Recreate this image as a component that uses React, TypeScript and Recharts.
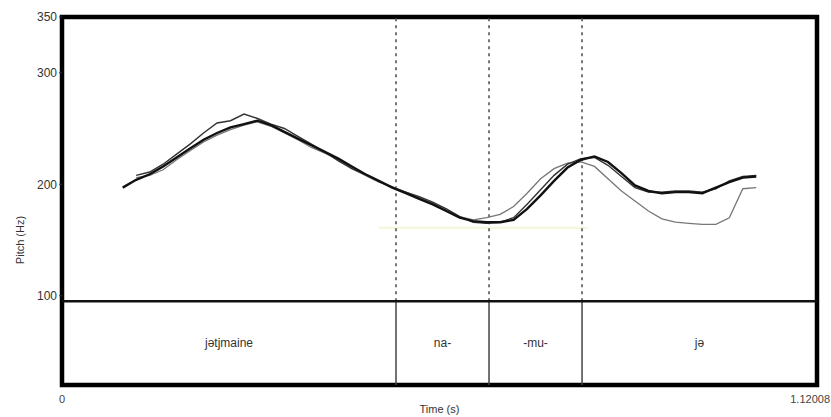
import {
  ComposedChart,
  Line,
  XAxis,
  YAxis,
  ReferenceLine,
  ReferenceArea,
  Label,
} from "recharts";

const END_TIME = 1.12008;
const Y_MIN = 20;
const TIER_TOP = 95;

const times = [
  0.09, 0.11, 0.13, 0.15, 0.17, 0.19, 0.21, 0.23, 0.25, 0.27, 0.29, 0.31, 0.33, 0.35, 0.37,
  0.39, 0.41, 0.43, 0.45, 0.47, 0.49, 0.51, 0.53, 0.55, 0.57, 0.59, 0.61, 0.63, 0.65, 0.67,
  0.69, 0.71, 0.73, 0.75, 0.77, 0.79, 0.81, 0.83, 0.85, 0.87, 0.89, 0.91, 0.93, 0.95, 0.97,
  0.99, 1.01, 1.03,
];

const pitchThick = [
  197, 204, 209, 216, 224, 232, 240, 246, 251, 254, 257, 253, 247, 241, 235,
  229, 223, 216, 209, 203, 197, 192, 187, 182, 176, 170, 167, 166, 166, 168,
  178, 190, 203, 215, 222, 225, 220, 210, 199, 194, 192, 193, 193, 192, 197,
  202, 206, 207,
];

const pitchJagged = [
  null, 208, 211, 218, 227, 236, 246, 255, 257, 263, 259, 254, 250, 243, 236,
  229, 221, 214, 209, 203, 197, 193, 189, 184, 178, 171, 166, 165, 166, 170,
  182, 195, 208, 218, 223, 224, 217, 207, 197, 193, 193, 194, 194, 193, 196,
  203, 207, 208,
];

const pitchLight = [
  null, 206, 208, 213, 222, 230, 238, 244, 249, 253, 256, 252, 246, 240, 233,
  228, 222, 214, 208, 202, 198, 193, 188, 183, 178, 171, 168, 170, 173, 180,
  192, 205, 214, 219, 220, 216, 205, 194, 185, 176, 169, 166, 165, 164, 164,
  170, 196, 197,
];

const boundaries = [0.4955, 0.6335, 0.7715];
const syllables = ["jətjmaine", "na-", "-mu-", "jə"];
const yTicks = [100, 200, 300, 350];
const xTicks = [0, END_TIME];

const rows = times.map((t, i) => ({
  t,
  thick: pitchThick[i],
  jagged: pitchJagged[i],
  light: pitchLight[i],
}));

const edges = [0, ...boundaries, END_TIME];
const FONT = "'Liberation Sans', Arial, sans-serif";

function TimeTick(props: any) {
  const { x, y, payload } = props;
  const last = payload.value !== 0;
  return (
    <text
      x={last ? 830 : x}
      y={y + 10}
      textAnchor={last ? "end" : "middle"}
      fontSize={11}
      fill="#444"
      fontFamily={FONT}
    >
      {last ? String(END_TIME) : "0"}
    </text>
  );
}

export default function App() {
  return (
    <div style={{ position: "absolute", left: 0, top: 0, background: "#fff" }}>
      <ComposedChart
        width={831}
        height={417}
        data={rows}
        margin={{ top: 17, right: 14, bottom: 2, left: 0 }}
        style={{ fontFamily: FONT }}
      >
        <XAxis
          dataKey="t"
          type="number"
          domain={[0, END_TIME]}
          ticks={xTicks}
          axisLine={false}
          tickLine={false}
          tick={<TimeTick />}
          height={30}
          interval={0}
        >
          <Label value="Time (s)" position="insideBottom" offset={2} style={{ fontSize: 11, fill: "#333" }} />
        </XAxis>
        <YAxis
          type="number"
          domain={[Y_MIN, 350]}
          ticks={yTicks}
          width={62}
          axisLine={false}
          tickLine={{ stroke: "#333" }}
          tickSize={3}
          tick={{ fontSize: 12, fill: "#333" }}
          interval={0}
        >
          <Label
            content={() => (
              <text
                x={20}
                y={240}
                transform="rotate(-90 20 240)"
                textAnchor="middle"
                dominantBaseline="central"
                fontSize={11}
                fill="#333"
                fontFamily={FONT}
              >
                Pitch (Hz)
              </text>
            )}
          />
        </YAxis>

        <ReferenceLine
          segment={[{ x: 0.47, y: 161 }, { x: 0.78, y: 161 }]}
          stroke="#f3f6d8"
          strokeWidth={2}
        />

        {boundaries.map((b) => (
          <ReferenceLine
            key={`d${b}`}
            segment={[{ x: b, y: TIER_TOP }, { x: b, y: 350 }]}
            stroke="#555"
            strokeWidth={1.6}
            strokeDasharray="3 4"
          />
        ))}
        {boundaries.map((b) => (
          <ReferenceLine
            key={`s${b}`}
            segment={[{ x: b, y: Y_MIN }, { x: b, y: TIER_TOP }]}
            stroke="#444"
            strokeWidth={1.5}
          />
        ))}
        {syllables.map((s, i) => (
          <ReferenceArea
            key={s}
            x1={edges[i]}
            x2={edges[i + 1]}
            y1={Y_MIN}
            y2={TIER_TOP}
            fill="none"
            stroke="none"
            label={{ value: s, position: "center", fontSize: 12, fill: "#333" }}
          />
        ))}

        <ReferenceLine y={TIER_TOP} stroke="#111" strokeWidth={2.5} />
        <ReferenceArea
          x1={0}
          x2={END_TIME}
          y1={Y_MIN}
          y2={350}
          fill="none"
          stroke="#000"
          strokeWidth={4.5}
        />

        <Line
          dataKey="light"
          stroke="#777"
          strokeWidth={1.3}
          dot={false}
          isAnimationActive={false}
        />
        <Line
          dataKey="jagged"
          stroke="#333"
          strokeWidth={1.4}
          dot={false}
          isAnimationActive={false}
        />
        <Line
          dataKey="thick"
          stroke="#111"
          strokeWidth={2.4}
          dot={false}
          isAnimationActive={false}
        />
      </ComposedChart>
    </div>
  );
}
